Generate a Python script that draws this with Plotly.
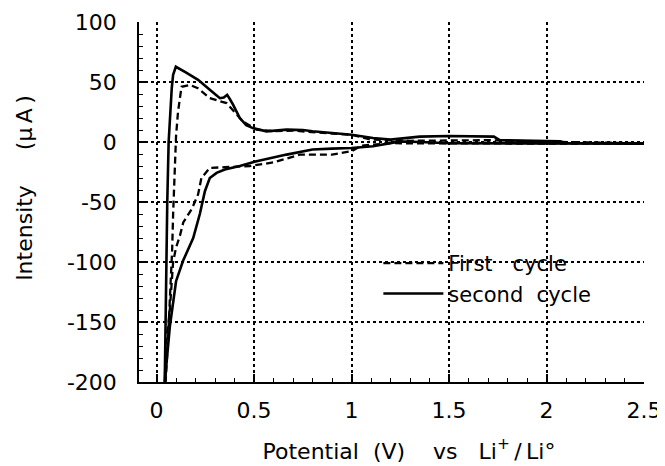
import plotly.graph_objects as go

# First cycle (dashed): cathodic sweep (2.5 V -> 0) then anodic sweep (0 -> 2.5 V)
first_cath_x = [2.5, 2.0, 1.5, 1.2, 1.05, 1.0, 0.9, 0.735, 0.6, 0.478, 0.35, 0.273,
                0.23, 0.213, 0.18, 0.137, 0.12, 0.1, 0.085, 0.077, 0.068, 0.051, 0.045]
first_cath_y = [-1.5, -1.5, -1, -1, -3, -7.7, -10.5, -10.5, -17, -20, -21, -21.6,
                -30, -43.7, -56, -67, -78, -88, -100, -124, -140, -165, -200]
first_anod_x = [0.045, 0.06, 0.072, 0.08, 0.085, 0.092, 0.1, 0.11, 0.118, 0.128, 0.171,
                0.212, 0.273, 0.359, 0.4, 0.444, 0.513, 0.6, 0.7, 0.8, 0.9, 1.0, 1.1,
                1.3, 1.7, 2.07, 2.5]
first_anod_y = [-205, -160, -120, -90, -60, -20, 5, 25, 36, 46, 47.6,
                44.8, 36.5, 32.4, 25, 17, 10.3, 9, 9.5, 8, 7, 6, 2,
                1, 1.5, 0, -1]

# Second cycle (solid)
second_cath_x = [2.5, 2.3, 2.1, 1.9, 1.7, 1.5, 1.35, 1.25, 1.11, 1.0, 0.9, 0.8, 0.667,
                 0.513, 0.427, 0.35, 0.308, 0.273, 0.248, 0.222, 0.188, 0.136, 0.10,
                 0.068, 0.043, 0.04]
second_cath_y = [-1.5, -1.5, -1.5, -1, -1, -1, 0, 0.5, -3.6, -5, -5.5, -6.3, -10.5,
                 -16, -20, -23, -25.7, -30, -41, -60, -80, -99, -116,
                 -154, -199, -205]
second_anod_x = [0.04, 0.043, 0.05, 0.055, 0.062, 0.068, 0.078, 0.085, 0.099, 0.15,
                 0.213, 0.27, 0.325, 0.345, 0.362, 0.375, 0.393, 0.427, 0.46, 0.494,
                 0.564, 0.667, 0.75, 0.80, 0.905, 1.0, 1.11, 1.2, 1.35, 1.5, 1.73,
                 1.76, 2.07, 2.1, 2.5]
second_anod_y = [-205, -190, -100, -50, 0, 20, 45, 56, 62.7, 58,
                 51.8, 44, 36.5, 37, 39.3, 36, 31, 20, 14, 11.6,
                 8.9, 10.3, 10, 8.9, 7.5, 6.1, 3.3, 2, 4.5, 5, 4.5,
                 1.5, 0.5, -1, -1]

x_ticks = [0, 0.5, 1, 1.5, 2, 2.5]
x_labels = ["0", "0.5", "1", "1.5", "2", "2.5"]
y_ticks = [-200, -150, -100, -50, 0, 50, 100]
y_labels = ["-200", "-150", "-100", "-50", "0", "50", "100"]

font = "DejaVu Sans"
NB = "\u00a0"
TH = "\u2009"
ZW = "\u200b"
x_range = [-0.09, 2.5]
y_range = [-200, 100]

fig = go.Figure()
fig.add_trace(go.Scatter(
    x=first_cath_x + first_anod_x, y=first_cath_y + first_anod_y,
    mode="lines", name="First" + NB * 3 + "cycle", legendgroup="a",
    line=dict(color="black", width=2.3, dash="7px,4px")))
fig.add_trace(go.Scatter(
    x=second_cath_x + second_anod_x, y=second_cath_y + second_anod_y,
    mode="lines", name="second" + NB * 2 + "cycle", legendgroup="b",
    line=dict(color="black", width=2.6)))
# empty trace to carry the minor-tick overlay axes
fig.add_trace(go.Scatter(x=[], y=[], xaxis="x2", yaxis="y2", showlegend=False,
                         hoverinfo="skip"))

fig.update_layout(
    width=657, height=458,
    margin=dict(l=131, r=21, t=14, b=84),
    paper_bgcolor="white", plot_bgcolor="white",
    font=dict(family=font, color="black"),
    showlegend=True,
    legend=dict(x=0.474, y=0.386, xanchor="left", yanchor="top",
                bgcolor="rgba(0,0,0,0)", font=dict(size=21, family=font),
                itemwidth=60, traceorder="grouped", tracegroupgap=0),
    xaxis2=dict(overlaying="x", anchor="y2", side="bottom", range=x_range,
                tickmode="linear", tick0=0, dtick=0.1, ticks="inside", ticklen=4,
                tickcolor="black", tickwidth=1, showticklabels=False,
                showgrid=False, zeroline=False, showline=False, automargin=False),
    yaxis2=dict(overlaying="y", anchor="x2", side="left", range=y_range,
                tickmode="linear", tick0=0, dtick=10, ticks="inside", ticklen=4,
                tickcolor="black", tickwidth=1, showticklabels=False,
                showgrid=False, zeroline=False, showline=False, automargin=False),
)
fig.update_layout(
    xaxis=dict(
        range=x_range, tickmode="array", tickvals=x_ticks, ticktext=x_labels,
        automargin=False,
        showgrid=True, gridcolor="black", griddash="dot", gridwidth=1.5,
        zeroline=False, showline=True, linecolor="black", linewidth=1.5,
        ticks="inside", ticklen=8, tickcolor="black", tickwidth=1.5,
        tickfont=dict(size=22, family=font), ticklabelstandoff=8,
        title=dict(text=ZW + NB * 5 + "Potential" + NB * 2 + "(V)" + NB * 4 + "vs" + NB * 3
                   + "Li<sup>+</sup>" + TH + "/" + TH + "Li°",
                   font=dict(size=22, family=font), standoff=21),
    ),
    yaxis=dict(
        range=y_range, tickmode="array", tickvals=y_ticks, ticktext=y_labels,
        automargin=False,
        showgrid=True, gridcolor="black", griddash="dot", gridwidth=1.5,
        zeroline=False, showline=True, linecolor="black", linewidth=1.5,
        ticks="inside", ticklen=8, tickcolor="black", tickwidth=1.5,
        tickfont=dict(size=22, family=font), ticklabelstandoff=16,
        title=dict(text=ZW + NB * 4 + "Intensity" + NB * 5 + "(μ" + TH + "A" + TH + ")",
                   font=dict(size=22, family=font), standoff=28),
    ),
)

fig.write_html("out.html")
